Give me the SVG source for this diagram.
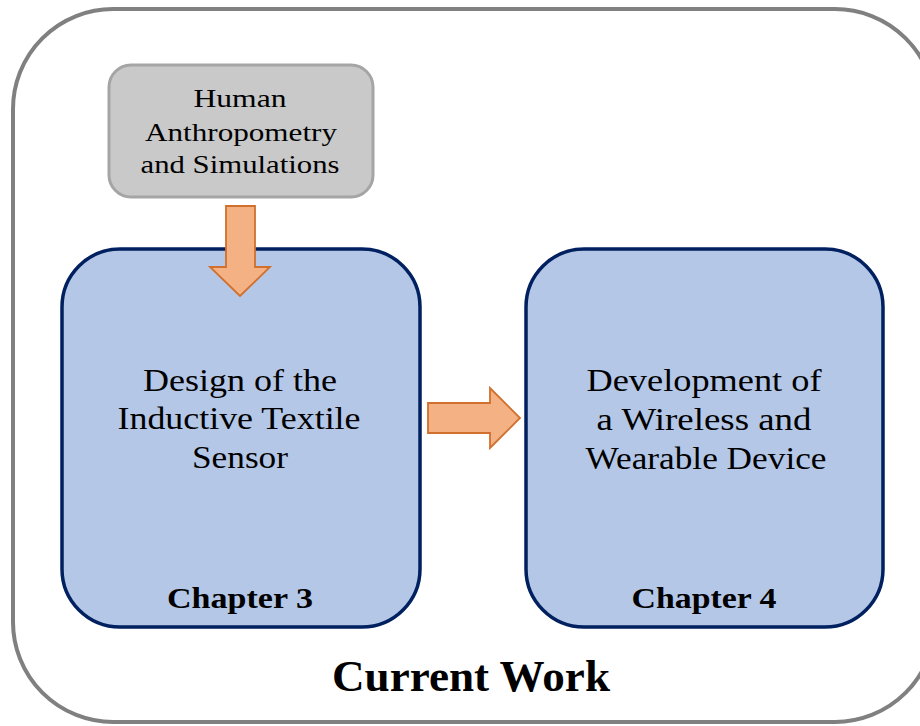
<svg xmlns="http://www.w3.org/2000/svg" width="920" height="726" viewBox="0 0 920 726">
  <style>
    .frame { fill: #ffffff; stroke: #808080; stroke-width: 4; }
    .input { fill: #c9c9c9; stroke: #a5a5a5; stroke-width: 3; }
    .stage { fill: #b4c7e7; stroke: #002060; stroke-width: 3.5; }
    .flow { fill: #f4b183; stroke: #d0702c; stroke-width: 1.8; stroke-linejoin: miter; }
    text { font-family: "Liberation Serif", "Times New Roman", serif; fill: #000000; text-anchor: middle; }
    .small { font-size: 26px; }
    .body { font-size: 32px; }
    .chap { font-size: 30px; font-weight: bold; }
    .title { font-size: 45px; font-weight: bold; }
  </style>

  <!-- outer container -->
  <g id="current-work">
    <rect class="frame" x="13" y="9" width="922" height="713" rx="100" ry="100"/>
    <text class="title" x="471" y="691" textLength="278" lengthAdjust="spacingAndGlyphs">Current Work</text>
  </g>

  <!-- input box -->
  <g id="anthropometry">
    <rect class="input" x="109" y="65" width="264" height="132" rx="22" ry="22"/>
    <text class="small" x="240" y="107" textLength="93" lengthAdjust="spacingAndGlyphs">Human</text>
    <text class="small" x="241" y="141" textLength="192" lengthAdjust="spacingAndGlyphs">Anthropometry</text>
    <text class="small" x="240" y="173" textLength="199" lengthAdjust="spacingAndGlyphs">and Simulations</text>
  </g>

  <!-- chapter 3 -->
  <g id="chapter3">
    <rect class="stage" x="62" y="249" width="358" height="378" rx="58" ry="58"/>
    <text class="body" x="240" y="391" textLength="194" lengthAdjust="spacingAndGlyphs">Design of the</text>
    <text class="body" x="239" y="429" textLength="243" lengthAdjust="spacingAndGlyphs">Inductive Textile</text>
    <text class="body" x="240" y="468" textLength="96" lengthAdjust="spacingAndGlyphs">Sensor</text>
    <text class="chap" x="240" y="608" textLength="146" lengthAdjust="spacingAndGlyphs">Chapter 3</text>
  </g>

  <!-- chapter 4 -->
  <g id="chapter4">
    <rect class="stage" x="526" y="249" width="357" height="378" rx="58" ry="58"/>
    <text class="body" x="704" y="391" textLength="235" lengthAdjust="spacingAndGlyphs">Development of</text>
    <text class="body" x="704" y="430" textLength="215" lengthAdjust="spacingAndGlyphs">a Wireless and</text>
    <text class="body" x="706" y="469" textLength="241" lengthAdjust="spacingAndGlyphs">Wearable Device</text>
    <text class="chap" x="704" y="608" textLength="145" lengthAdjust="spacingAndGlyphs">Chapter 4</text>
  </g>

  <!-- block arrows -->
  <g id="connectors">
    <polygon class="flow" points="226,206 255,206 255,267 270,267 240,296 210,267 226,267"/>
    <polygon class="flow" points="428,403 490,403 490,388 520,418 490,448 490,433 428,433"/>
  </g>
</svg>
